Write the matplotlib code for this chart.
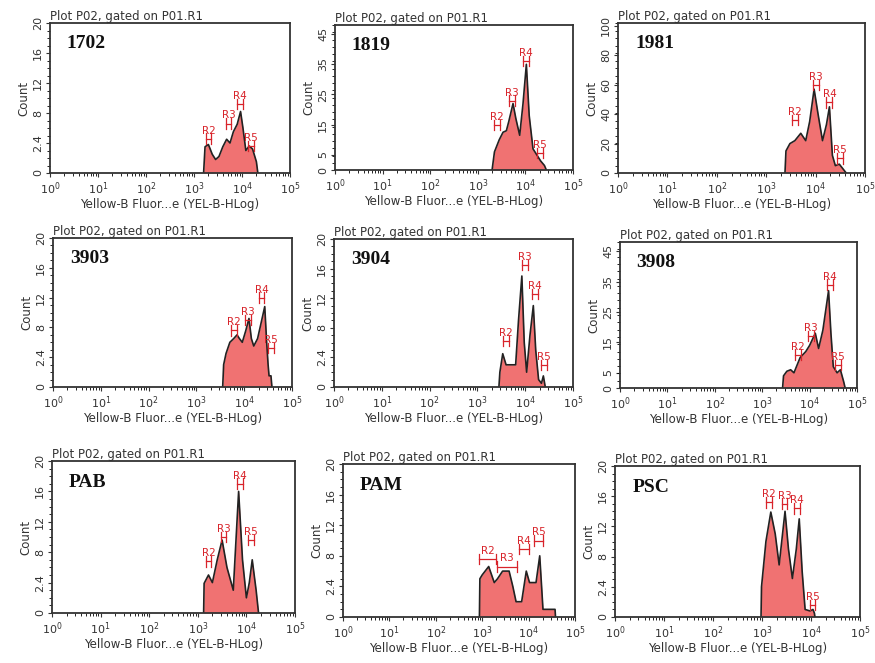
import numpy as np
import matplotlib
matplotlib.use('Agg')
import matplotlib.pyplot as plt
from matplotlib.ticker import FixedLocator, LogLocator, NullFormatter

names = ["1702", "1819", "1981", "3903", "3904", "3908", "PAB", "PAM", "PSC"]

# histogram outlines: log10(fluorescence) and counts
lx = {
    "1702": [3.20, 3.23, 3.30, 3.38, 3.45, 3.52, 3.60, 3.68, 3.75, 3.82, 3.90, 3.97, 4.02, 4.08, 4.15, 4.22, 4.30, 4.33],
    "1819": [3.30, 3.35, 3.45, 3.53, 3.60, 3.65, 3.74, 3.80, 3.88, 3.95, 4.02, 4.08, 4.16, 4.24, 4.32, 4.40, 4.44],
    "1981": [3.38, 3.40, 3.48, 3.58, 3.70, 3.80, 3.88, 3.97, 4.05, 4.14, 4.22, 4.28, 4.34, 4.40, 4.48, 4.55, 4.62],
    "3903": [3.55, 3.57, 3.62, 3.70, 3.78, 3.85, 3.90, 3.96, 4.03, 4.10, 4.15, 4.20, 4.28, 4.35, 4.43, 4.47, 4.50, 4.52, 4.56, 4.58],
    "3904": [3.45, 3.47, 3.53, 3.60, 3.67, 3.80, 3.86, 3.93, 3.98, 4.03, 4.10, 4.17, 4.22, 4.28, 4.34, 4.38, 4.42],
    "3908": [3.43, 3.45, 3.52, 3.60, 3.67, 3.80, 3.92, 4.00, 4.12, 4.19, 4.28, 4.40, 4.45, 4.50, 4.58, 4.65, 4.72, 4.75],
    "PAB": [3.12, 3.13, 3.22, 3.30, 3.40, 3.50, 3.60, 3.73, 3.84, 3.92, 4.00, 4.06, 4.12, 4.20, 4.25],
    "PAM": [2.94, 2.95, 3.00, 3.14, 3.26, 3.33, 3.44, 3.58, 3.66, 3.73, 3.85, 3.95, 4.02, 4.16, 4.24, 4.28, 4.31, 4.57, 4.58],
    "PSC": [2.98, 2.99, 3.08, 3.18, 3.27, 3.35, 3.47, 3.54, 3.62, 3.70, 3.76, 3.82, 3.88, 3.98, 4.04, 4.07, 4.08],
}
counts = {
    "1702": [0, 3.5, 3.8, 2.5, 1.8, 2.2, 3.5, 4.5, 4.0, 5.5, 6.5, 8.2, 6.0, 3.0, 3.6, 3.2, 1.5, 0],
    "1819": [0, 6, 10, 12.5, 13, 16, 22, 17, 11.5, 22, 35, 18, 7, 5, 3, 1.5, 0],
    "1981": [0, 15, 20, 22, 27, 22, 35, 57, 40, 22, 33, 45, 12, 5, 6, 3, 0],
    "3903": [0, 3, 4.5, 6, 6.5, 7, 6.5, 6, 7.5, 9.2, 6.5, 5.5, 6.5, 8.5, 10.8, 6, 3, 1.5, 1.5, 0],
    "3904": [0, 2, 4.5, 3, 3, 3, 9, 15, 6, 2, 7, 11, 5, 1, 0.5, 1.5, 0],
    "3908": [0, 4, 5.5, 6, 5, 10, 12, 14, 18, 13, 19, 32, 18, 7, 5, 6, 2, 0],
    "PAB": [0, 3.9, 5, 4, 7, 9.6, 6, 3, 16, 7, 2, 4, 7, 3, 0],
    "PAM": [0, 5, 5.5, 6.6, 4.5, 5, 6, 6, 4, 2, 2, 6, 4.5, 4.5, 8, 4, 1, 1, 0],
    "PSC": [0, 4, 10, 13.9, 11, 6.9, 14, 9, 5.1, 9, 13, 6, 1, 0.8, 1, 0.5, 0],
}

# gate labels: log10 centre, bracket height, half width
regions = ["R2", "R3", "R4", "R5"]
reg_x = {
    "1702": [3.30, 3.72, 3.96, 4.18], "1819": [3.40, 3.72, 4.02, 4.30],
    "1981": [3.58, 4.00, 4.28, 4.50], "3903": [3.78, 4.08, 4.36, 4.56],
    "3904": [3.60, 4.00, 4.20, 4.40], "3908": [3.75, 4.03, 4.43, 4.60],
    "PAB": [3.22, 3.53, 3.86, 4.10], "PAM": [3.12, 3.53, 3.90, 4.22],
    "PSC": [3.15, 3.46, 3.72, 4.03],
}
reg_y = {
    "1702": [4.6, 6.6, 9.2, 3.6], "1819": [15, 23, 36, 5.5],
    "1981": [36, 60, 48, 10], "3903": [7.6, 9.0, 12.0, 5.2],
    "3904": [6.2, 16.5, 12.6, 3.0], "3908": [11, 17, 34, 7.5],
    "PAB": [6.8, 10.0, 17.0, 9.6], "PAM": [7.6, 6.6, 8.9, 10.0],
    "PSC": [15.2, 15.0, 14.4, 1.6],
}
reg_w = {"PAM": [0.18, 0.22, 0.1, 0.1]}

ticks20 = [0, 4, 8, 12, 16, 20]
labels20 = ["0", "2.4", "8", "12", "16", "20"]
ticks45 = [0, 5, 15, 25, 35, 45]
labels45 = ["0", "5", "15", "25", "35", "45"]
ticks100 = [0, 20, 40, 60, 80, 100]
labels100 = ["0", "20", "40", "60", "80", "100"]
yscale = {"1819": (48, ticks45, labels45), "3908": (48, ticks45, labels45),
          "1981": (102, ticks100, labels100)}

# axes boxes in pixels: left, top, right, bottom
boxes = [(50, 23, 290, 173), (335, 25, 573, 170), (618, 23, 865, 173),
         (53, 238, 292, 387), (334, 239, 573, 387), (620, 242, 857, 388),
         (52, 461, 295, 613), (343, 464, 575, 617), (615, 466, 860, 617)]

W, H = 875, 663
fig = plt.figure(figsize=(W / 100, H / 100), dpi=100)
fill = "#f07272"
red = "#d8232a"

for name, (l, t, r, b) in zip(names, boxes):
    ax = fig.add_axes([l / W, 1 - b / H, (r - l) / W, (b - t) / H])
    xs = 10 ** np.array(lx[name])
    ys = np.array(counts[name])
    ymax, yt, yl = yscale.get(name, (20, ticks20, labels20))

    ax.fill_between(xs, ys, color=fill, lw=0)
    ax.plot(xs, ys, color="#222222", lw=1.2)

    hw = reg_w.get(name, [0.06] * 4)
    for lab, cx, cy, w in zip(regions, reg_x[name], reg_y[name], hw):
        x0, x1 = 10 ** (cx - w), 10 ** (cx + w)
        tk = ymax * 0.035
        ax.plot([x0, x1], [cy, cy], color=red, lw=0.9)
        ax.plot([x0, x0], [cy - tk, cy + tk], color=red, lw=0.9)
        ax.plot([x1, x1], [cy - tk, cy + tk], color=red, lw=0.9)
        ax.text(10 ** cx, cy + ymax * 0.02, lab, color=red, fontsize=7.5,
                ha="center", va="bottom")

    ax.set_xscale("log")
    ax.set_xlim(1, 1e5)
    ax.set_ylim(0, ymax)
    ax.set_xticks([1, 10, 100, 1e3, 1e4, 1e5])
    ax.xaxis.set_minor_locator(LogLocator(base=10, subs=np.arange(2, 10)))
    ax.xaxis.set_minor_formatter(NullFormatter())
    ax.yaxis.set_major_locator(FixedLocator(yt))
    ax.set_yticklabels(yl, rotation=90, va="center")
    ax.yaxis.set_minor_locator(FixedLocator(np.linspace(0, ymax, 21)))
    ax.tick_params(labelsize=8, length=3, width=0.8, pad=2, colors="#333333")
    ax.tick_params(which="minor", length=2, width=0.6)
    for sp in ax.spines.values():
        sp.set_linewidth(1.3)
        sp.set_color("#333333")

    ax.set_xlabel("Yellow-B Fluor...e (YEL-B-HLog)", fontsize=8.5,
                  color="#333333", labelpad=1)
    ax.set_ylabel("Count", fontsize=8.5, color="#333333", labelpad=2)
    ax.set_title("Plot P02, gated on P01.R1", loc="left", fontsize=8.5,
                 color="#333333", pad=2)
    ax.text(0.07, 0.86, name, transform=ax.transAxes, fontsize=14,
            fontweight="bold", family="Liberation Serif", va="center",
            color="#111111")

fig.savefig("out.png", dpi=100)
